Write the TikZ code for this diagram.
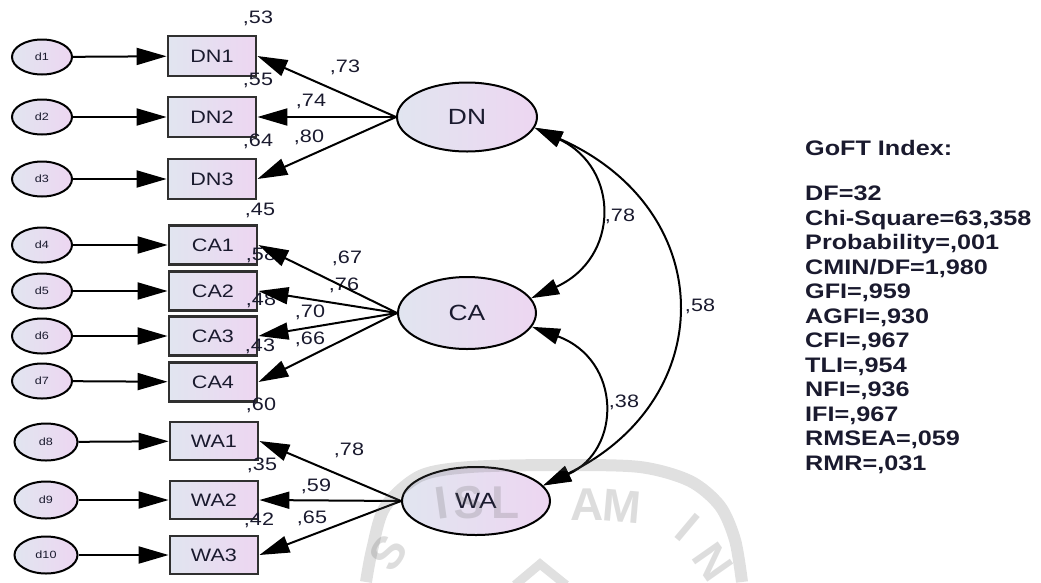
\documentclass[tikz,border=0pt]{standalone}
\usepackage{fontspec}
\setmainfont{Liberation Sans}[FakeStretch=1.2]
\newfontfamily\wmfont{Liberation Sans}
\usetikzlibrary{arrows.meta,shapes.geometric}
\definecolor{txt}{RGB}{26,26,46}
\definecolor{fillL}{RGB}{225,229,240}
\definecolor{fillR}{RGB}{237,214,241}
\definecolor{bord}{RGB}{48,48,48}
\begin{document}
\begin{tikzpicture}[x=1pt,y=-1pt,
  err/.style={ellipse,draw=black,line width=2pt,left color=fillL,right color=fillR,minimum width=60pt,minimum height=35pt,inner sep=0pt,font=\fontsize{10.5}{12}\selectfont,text=txt},
  obs/.style={rectangle,draw=bord,line width=2.8pt,left color=fillL,right color=fillR,minimum width=88pt,minimum height=40pt,inner sep=0pt,font=\fontsize{18}{20}\selectfont,text=txt},
  lat/.style={ellipse,draw=black,line width=2pt,left color=fillL,right color=fillR,minimum width=140pt,minimum height=69pt,inner sep=0pt,font=\fontsize{22}{24}\selectfont,text=txt},
  num/.style={font=\fontsize{18}{20}\selectfont,text=txt,inner sep=0pt},
  goft/.style={anchor=base west,font=\fontsize{21}{24}\selectfont\bfseries,text=txt,inner sep=0pt},
  arr/.style={line width=2pt,-{Triangle[length=30pt,width=17pt]}},
  cov/.style={line width=2pt,{Triangle[length=28pt,width=16pt]}-{Triangle[length=28pt,width=16pt]}},
  wm/.style={draw=black!60,opacity=0.2},
  wml/.style={text=black!60,opacity=0.22,font=\wmfont\fontsize{46}{46}\selectfont\bfseries,inner sep=0pt}
]
\useasboundingbox (0,0) rectangle (1041,582);
% error terms
\node[err] (d1) at (42,57) {d1};
\node[err] (d2) at (42,117) {d2};
\node[err] (d3) at (42,179) {d3};
\node[err] (d4) at (42,245) {d4};
\node[err] (d5) at (42,291) {d5};
\node[err] (d6) at (42,336) {d6};
\node[err] (d7) at (42,381) {d7};
\node[err,minimum width=63pt,minimum height=37pt] (d8) at (46,442) {d8};
\node[err,minimum width=63pt,minimum height=37pt] (d9) at (46,500) {d9};
\node[err,minimum width=63pt,minimum height=37pt] (d10) at (46,555) {d10};
% observed
\node[obs] (DN1) at (212,56) {DN1};
\node[obs] (DN2) at (212,117) {DN2};
\node[obs] (DN3) at (212,179) {DN3};
\node[obs,minimum height=39pt] (CA1) at (213,245) {CA1};
\node[obs,minimum height=39pt] (CA2) at (213,291) {CA2};
\node[obs,minimum height=39pt] (CA3) at (213,336) {CA3};
\node[obs,minimum height=39pt] (CA4) at (213,382) {CA4};
\node[obs,minimum height=38pt] (WA1) at (214,441) {WA1};
\node[obs,minimum height=38pt] (WA2) at (214,500) {WA2};
\node[obs,minimum height=38pt] (WA3) at (214,555) {WA3};
% latent
\node[lat] (DN) at (467,117) {DN};
\node[lat,minimum width=138pt,minimum height=72pt] (CA) at (467,313) {CA};
\node[lat,minimum width=148pt,minimum height=68pt] (WA) at (476,501) {WA};
% squared multiple correlations
\node[num] (r1) at (258,18) {,53};
\node[num] (r2) at (258,80) {,55};
\node[num] (r3) at (258,141) {,64};
\node[num] (r4) at (260,210) {,45};
\node[num] (r5) at (261,255) {,58};
\node[num] (r6) at (261,300) {,48};
\node[num] (r7) at (260,346) {,43};
\node[num] (r8) at (261,405) {,60};
\node[num] (r9) at (262,465) {,35};
\node[num] (r10) at (259,520) {,42};
% loadings labels
\node[num] (l1) at (345,67) {,73};
\node[num] (l2) at (311,101) {,74};
\node[num] (l3) at (309,137) {,80};
\node[num] (l4) at (347,258) {,67};
\node[num] (l5) at (344,285) {,76};
\node[num] (l6) at (310,312) {,70};
\node[num] (l7) at (310,339) {,66};
\node[num] (l8) at (349,450) {,78};
\node[num] (l9) at (316,486) {,59};
\node[num] (l10) at (312,518) {,65};
% error arrows
\foreach \i/\b in {1/DN1,2/DN2,3/DN3,4/CA1,5/CA2,6/CA3,7/CA4,8/WA1,9/WA2,10/WA3}
  \draw[arr] (d\i) -- (\b);
% loadings
\foreach \b in {DN1,DN2,DN3} \draw[arr] (DN.west) -- (\b.east);
\foreach \b in {CA1,CA2,CA3,CA4} \draw[arr] (CA.west) -- (\b.east);
\foreach \b in {WA1,WA2,WA3} \draw[arr] (WA.west) -- (\b.east);
% covariances
\draw[cov] (DN.-9) .. controls (620,168) and (620,258) .. (CA.13);
\draw[cov] (CA.-12) .. controls (622,360) and (622,450) .. (WA.13);
\draw[cov] (DN.-9) .. controls (720,210) and (720,400) .. (WA.13);
\node[num] (c1) at (620,216) {,78};
\node[num] (c2) at (700,306) {,58};
\node[num] (c3) at (624,402) {,38};
% fit indices
\node[goft] (g0) at (805,155.5) {GoFT Index:};
\foreach \t [count=\k] in {{DF=32},{Chi-Square=63,358},{Probability=,001},{CMIN/DF=1,980},{GFI=,959},{AGFI=,930},{CFI=,967},{TLI=,954},{NFI=,936},{IFI=,967},{RMSEA=,059},{RMR=,031}}
  \node[goft] (g\k) at (805,{200.5+(\k-1)*24.5}) {\t};
% watermark
\draw[wm,line width=12pt] plot[smooth] coordinates {(366,582) (372,550) (385,507) (420,476) (470,467) (560,465) (640,467) (690,481) (720,506) (735,540) (742,582)};
\draw[wm,line width=9pt] (515,585) -- (540,564) -- (566,585);
\node[wml,rotate=8] (w1) at (442,503) {I};
\node[wml,rotate=4] (w2) at (469,503) {S};
\node[wml] (w3) at (506,503) {L};
\node[wml] (w4) at (587,505) {A};
\node[wml,rotate=-5] (w5) at (622,506) {M};
\node[wml,rotate=-40] (w6) at (688,527) {I};
\node[wml,rotate=-55] (w7) at (713,562) {N};
\node[wml,rotate=55] (w8) at (388,553) {S};
\end{tikzpicture}
\end{document}
